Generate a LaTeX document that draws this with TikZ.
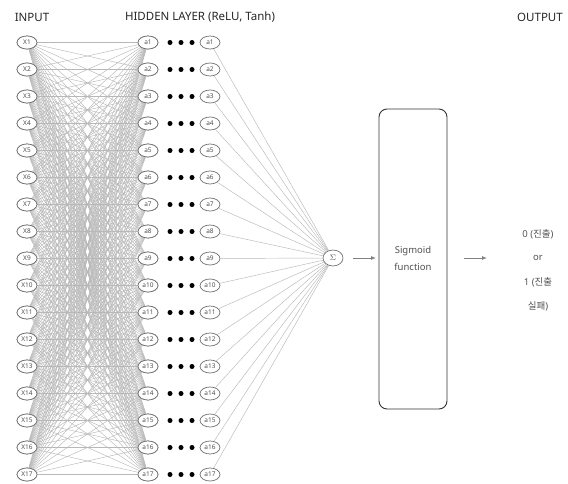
\documentclass[tikz,border=0pt]{standalone}
\usepackage{fontspec}
\setmainfont{Noto Sans}
\newfontfamily\kr{Noto Sans CJK KR}
\usetikzlibrary{shapes.geometric,arrows.meta}
\definecolor{linegray}{HTML}{B8B8B8}
\definecolor{nodegray}{HTML}{707070}
\definecolor{txtgray}{HTML}{505050}
\tikzset{
  neuron/.style={ellipse,draw=nodegray,line width=0.7pt,fill=white,minimum width=20pt,minimum height=13pt,inner sep=0pt,font=\fontsize{6.5}{6.5}\selectfont,text=txtgray},
  wire/.style={draw=linegray,line width=0.45pt},
  dotmark/.style={circle,fill=black,minimum size=5pt,inner sep=0pt},
  title/.style={font=\fontsize{11.5}{12}\selectfont,text=black!85},
  flow/.style={draw=gray,line width=0.9pt,-{Latex[length=5pt,width=4pt]}},
  otext/.style={font=\fontsize{9.5}{10}\selectfont,text=txtgray}
}
\begin{document}
\begin{tikzpicture}[x=1pt,y=-1pt]
\useasboundingbox (0,0) rectangle (568,484);
\node[title] (tin) at (32,17) {INPUT};
\node[title] (thid) at (200,17) {HIDDEN LAYER (ReLU, Tanh)};
\node[title] (tout) at (540,17) {OUTPUT};
% nodes
\foreach \i in {1,...,17}{
  \pgfmathsetmacro\yy{42.5+27*(\i-1)}
  \node[neuron] (x\i) at (27,\yy) {X\i};
  \node[neuron] (a\i) at (148,\yy) {a\i};
  \node[neuron] (b\i) at (210,\yy) {a\i};
  \node[dotmark] (da\i) at (170,\yy) {};
  \node[dotmark] (db\i) at (181,\yy) {};
  \node[dotmark] (dc\i) at (192,\yy) {};
}
\node[neuron,minimum height=16pt,font=\fontsize{8}{8}\selectfont] (sum) at (333,258) {$\Sigma$};
% wires
\foreach \i in {1,...,17}{
  \foreach \j in {1,...,17}{
    \draw[wire] (x\i) -- (a\j);
  }
  \draw[wire] (b\i) -- (sum);
}
% redraw nodes on top
\foreach \i in {1,...,17}{
  \pgfmathsetmacro\yy{42.5+27*(\i-1)}
  \node[neuron] at (27,\yy) {X\i};
  \node[neuron] at (148,\yy) {a\i};
}
\node[draw=black!80,line width=0.9pt,rounded corners=8pt,minimum width=68pt,minimum height=300pt,inner sep=0pt] (sig) at (413,259) {};
\node[font=\fontsize{9.5}{17}\selectfont,text=txtgray,align=center] (sigt) at (413,258) {Sigmoid\\function};
\coordinate (o1) at (487,258);
\coordinate (s0) at (353,258);
\coordinate (s1) at (376,258);
\coordinate (o0) at (464,258);
\draw[flow] (s0) -- (s1);
\draw[flow] (o0) -- (o1);
\node[otext] (out1) at (538,234) {0 ({\kr 진출})};
\node[otext] (out2) at (538,258) {or};
\node[otext] (out3) at (538,282) {1 ({\kr 진출}};
\node[otext] (out4) at (538,306) {{\kr 실패})};
\end{tikzpicture}
\end{document}
